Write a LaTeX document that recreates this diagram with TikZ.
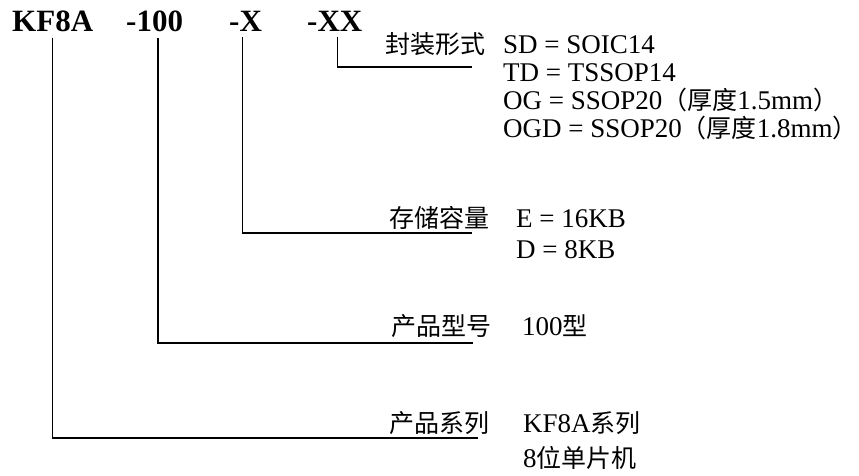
\documentclass[tikz,border=0pt]{standalone}
\usepackage{fontspec}
\setmainfont{Liberation Serif}
\newfontfamily\cjk{Noto Sans CJK SC}
\newcommand\zh[1]{{\cjk\fontsize{25}{28}\selectfont #1}}
\usetikzlibrary{positioning, calc}

\begin{document}
\begin{tikzpicture}[x=1pt, y=-1pt,
    code/.style={inner xsep=0pt, inner ysep=5pt, anchor=base west, font=\fontsize{31}{34}\selectfont\bfseries},
    field/.style={inner sep=0pt, anchor=base east, font=\fontsize{25}{28}\selectfont\cjk},
    val/.style={inner sep=0pt, anchor=base west, font=\fontsize{27}{30}\selectfont},
    bar/.style={line width=1.4pt}]
    \useasboundingbox (0,0) rectangle (859,476);

    \node (kf) [code] at (12,32) {KF8A};
    \node (m100) [code] at (126,32) {-100};
    \node (mx) [code] at (229,32) {-X};
    \node (mxx) [code] at (307,32) {-XX};

    \node (pkg) [field] at (486,54) {封装形式};
    \node (mem) [field] at (490,227) {存储容量};
    \node (mdl) [field] at (492,335) {产品型号};
    \node (ser) [field] at (490,432) {产品系列};

    \node (sd) [val] at (503,54) {SD = SOIC14};
    \node (td) [val] at (503,82) {TD = TSSOP14};
    \node (og) [val] at (503,110) {OG = SSOP20\zh{（厚度}1.5mm\zh{）}};
    \node (ogd) [val] at (503,138) {OGD = SSOP20\zh{（厚度}1.8mm\zh{）}};
    \node (e16) [val] at (516,227) {E = 16KB};
    \node (d8) [val] at (516,258) {D = 8KB};
    \node (t100) [val] at (522,335) {100\zh{型}};
    \node (kfs) [val] at (523,432) {KF8A\zh{系列}};
    \node (bit8) [val] at (523,467) {8\zh{位单片机}};

    \coordinate (pkgEnd) at (472,67);
    \coordinate (memEnd) at (472,233);
    \coordinate (mdlEnd) at (473,343);
    \coordinate (serEnd) at (478,438);

    \draw [bar] ([xshift=2.5pt]mxx.south) |- (pkgEnd);
    \draw [bar] ([xshift=-3pt]mx.south) |- (memEnd);
    \draw [bar] ([xshift=3.5pt]m100.south) |- (mdlEnd);
    \draw [bar] (kf.south) |- (serEnd);
\end{tikzpicture}
\end{document}
